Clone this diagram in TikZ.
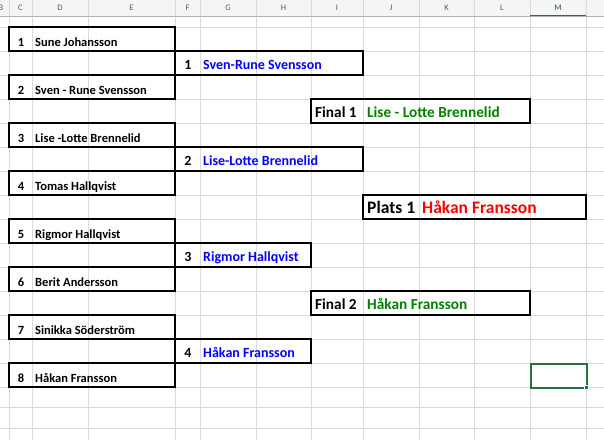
\documentclass[tikz,border=0pt]{standalone}
\usepackage{fontspec}
\setmainfont{Carlito}
\definecolor{gridgray}{RGB}{218,218,218}
\definecolor{headgray}{RGB}{245,245,245}
\definecolor{xlgreen}{RGB}{33,115,70}
\definecolor{roundblue}{RGB}{0,0,255}
\definecolor{finalgreen}{RGB}{0,128,0}
\definecolor{winnerred}{RGB}{255,0,0}

\begin{document}
\begin{tikzpicture}[x=1pt, y=-1pt,
  gridline/.style={gridgray, line width=0.8pt},
  colhead/.style={anchor=base, inner sep=0pt, text=black!65, font=\fontsize{8.5}{9}\selectfont},
  box/.style={draw=black, line width=1.1pt, anchor=north west, inner sep=0pt, outer sep=0pt, minimum height=24},
  celltxt/.style={anchor=base west, inner sep=0pt, font=\bfseries},
  cellnum/.style={anchor=base, inner sep=0pt, font=\bfseries}]
  \clip (0,0) rectangle (604,440); % page size

  % header strip and grid
  \fill[headgray] (0,0) rectangle (604,16);
  \foreach \x in {9,32,88,175,200,256,311,363,419,474,530,586} {
    \draw[gridline] (\x,0) -- (\x,440);
  }
  \foreach \y in {27,51,...,387,407,428} {
    \draw[gridline] (0,\y) -- (604,\y);
  }
  \draw[black!30, line width=0.8pt] (0,16) -- (604,16);
  \draw[xlgreen, line width=1.2pt] (530,15.5) -- (586,15.5);
  \foreach \c/\x in {B/1,C/20.5,D/60,E/131.5,F/187.5,G/228,H/283.5,I/337,J/391,K/446.5,L/502} {
    \node[colhead] (h\c) at (\x,10) {\c};
  }
  \node[colhead, text=xlgreen!80!black] (hM) at (558,10) {M};

  % first round
  \foreach \i/\name [evaluate=\i as \top using 27+48*(\i-1)] in {1/Sune Johansson, 2/Sven - Rune Svensson,
      3/Lise -Lotte Brennelid, 4/Tomas Hallqvist, 5/Rigmor Hallqvist, 6/Berit Andersson,
      7/Sinikka Söderström, 8/Håkan Fransson} {
    \node[box, minimum width=166] (P\i) at (9,\top) {};
    \node[cellnum, font=\bfseries\fontsize{12.5}{13}\selectfont] (N\i) at (21,\top+19) {\i};
    \node[celltxt, font=\bfseries\fontsize{12.5}{13}\selectfont] (T\i) at (35,\top+19) {\name};
  }

  % second round
  \foreach \k/\name/\w [evaluate=\k as \top using 51+96*(\k-1)] in {1/Sven-Rune Svensson/188,
      2/Lise-Lotte Brennelid/188, 3/Rigmor Hallqvist/136, 4/Håkan Fransson/136} {
    \node[box, minimum width=\w] (Q\k) at (175,\top) {};
    \node[cellnum, font=\bfseries\fontsize{14}{15}\selectfont] (M\k) at (188,\top+18) {\k};
    \node[celltxt, text=roundblue, font=\bfseries\fontsize{14}{15}\selectfont] (S\k) at (203,\top+18) {\name};
  }

  % finals
  \foreach \f/\name [evaluate=\f as \top using 99+192*(\f-1)] in {1/Lise - Lotte Brennelid, 2/Håkan Fransson} {
    \node[box, minimum width=219] (F\f) at (311,\top) {};
    \node[celltxt, font=\bfseries\fontsize{15.3}{16}\selectfont] (FL\f) at (315,\top+18) {Final \f};
    \node[celltxt, text=finalgreen, font=\bfseries\fontsize{15.3}{16}\selectfont] (FN\f) at (367,\top+18) {\name};
  }

  % winner
  \node[box, minimum width=223] (W) at (363,195) {};
  \node[celltxt, font=\bfseries\fontsize{17.5}{18}\selectfont] (WL) at (367,213) {Plats 1};
  \node[celltxt, text=winnerred, font=\bfseries\fontsize{17.5}{18}\selectfont] (WN) at (422,213) {Håkan Fransson};

  % selected cell
  \node[draw=xlgreen, line width=1.5pt, anchor=north west, inner sep=0pt, minimum width=56, minimum height=24] (sel) at (530,363) {};
  \fill[xlgreen, draw=white, line width=0.6pt] (584,385) rectangle (588.5,389.5);
\end{tikzpicture}
\end{document}
